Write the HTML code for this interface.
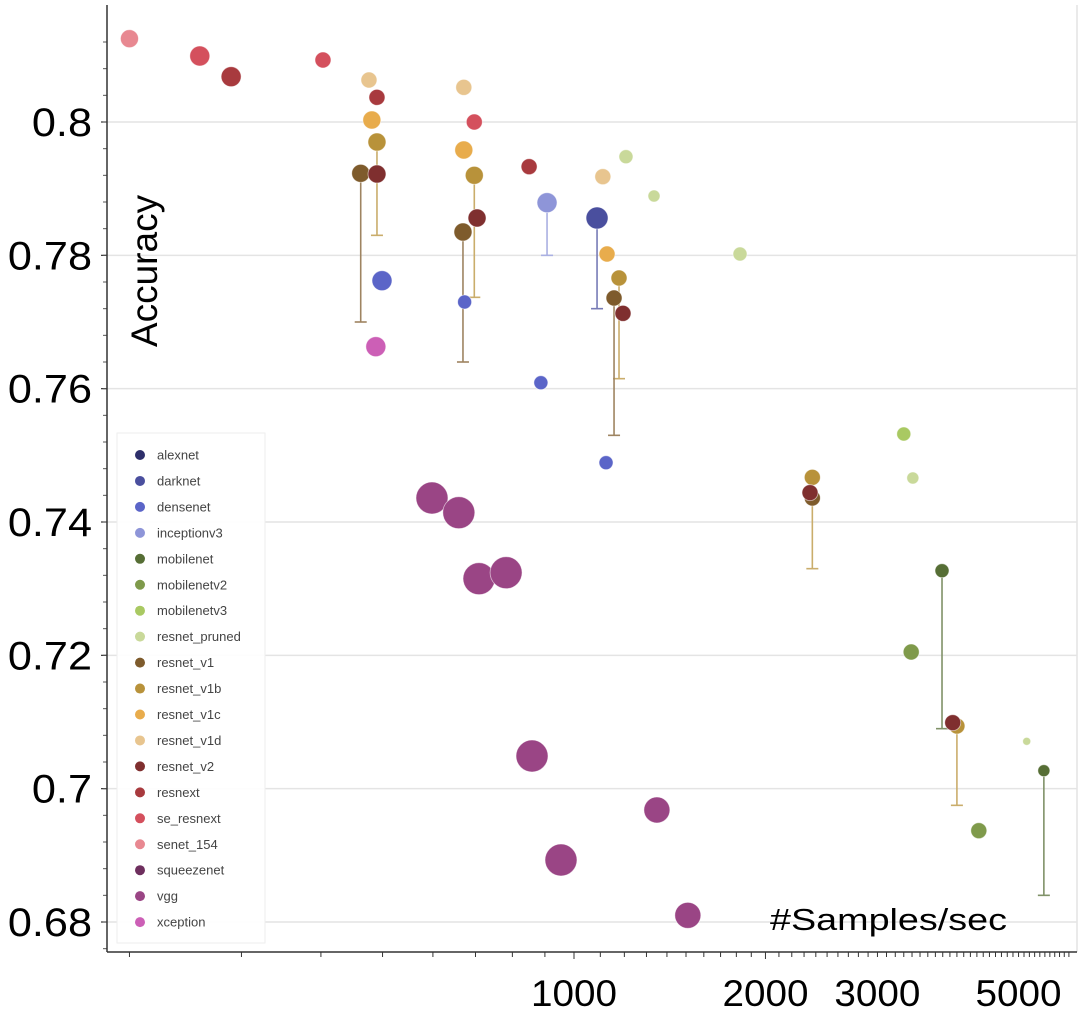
<!DOCTYPE html>
<html><head><meta charset="utf-8">
<style>
html,body{margin:0;padding:0;background:#fff;}
svg{display:block;font-family:"Liberation Sans",sans-serif;}
</style></head>
<body>
<svg id="chart" width="1083" height="1018" viewBox="0 0 1083 1018">
  <g id="grid"></g>
  <g id="axes"></g>
  <g id="marks"></g>
  <text x="0" y="0" transform="translate(157,271) rotate(-90)" text-anchor="middle" font-size="37" fill="#000">Accuracy</text>
  <text x="770" y="930" font-size="31" textLength="237" lengthAdjust="spacingAndGlyphs" fill="#000">#Samples/sec</text>
  <g id="legend"></g>
</svg>
<script>
const seriesNames = ["alexnet","darknet","densenet","inceptionv3","mobilenet","mobilenetv2","mobilenetv3","resnet_pruned","resnet_v1","resnet_v1b","resnet_v1c","resnet_v1d","resnet_v2","resnext","se_resnext","senet_154","squeezenet","vgg","xception"];
const seriesColors = ["#2e2f6b","#4a4f9e","#5b65c8","#8e95d8","#566e35","#7f9a4b","#a9c962","#c9d99a","#7e5b2c","#b8923a","#e8ac4c","#e8c58f","#7f2f2f","#a83a3e","#d4505d","#e88891","#6e2f5e","#9a4585","#cc5fb6"];
const pointSeries = ["senet_154","se_resnext","resnext","se_resnext","resnet_v1d","resnext","resnet_v1c","resnet_v1b","resnet_v1","resnet_v2","densenet","xception","resnet_v1d","se_resnext","resnet_v1c","resnet_v1b","resnet_v2","resnet_v1","densenet","resnext","inceptionv3","densenet","darknet","resnet_v1d","resnet_pruned","resnet_pruned","resnet_v1c","resnet_v1b","resnet_v1","resnet_v2","densenet","resnet_pruned","mobilenetv3","resnet_pruned","resnet_v1b","resnet_v1","resnet_v2","mobilenet","mobilenetv2","resnet_v1b","resnet_v2","resnet_pruned","mobilenetv2","mobilenet","vgg","vgg","vgg","vgg","vgg","vgg","vgg","vgg"];
const samplesPerSec = [200,258,289,403,476,490,481,490,462,490,499,488,671,697,671,697,704,669,673,850,907,887,1087,1110,1207,1336,1127,1177,1156,1194,1123,1824,3300,3410,2370,2370,2350,3790,3390,4000,3940,5150,4330,5480,598,659,709,782,859,954,1350,1510];
const accuracy = [0.8125,0.8099,0.8068,0.8093,0.8063,0.8037,0.8003,0.797,0.7923,0.7922,0.7762,0.7663,0.8052,0.800,0.7958,0.792,0.7856,0.7835,0.773,0.7933,0.7879,0.7609,0.7856,0.7918,0.7948,0.7889,0.7802,0.7766,0.7736,0.7713,0.7489,0.7802,0.7532,0.7466,0.7467,0.7436,0.7444,0.7327,0.7205,0.7094,0.7099,0.7071,0.6937,0.7027,0.7436,0.7414,0.7315,0.7324,0.7049,0.6893,0.6968,0.681];
const accuracyLow = [null,null,null,null,null,null,null,0.783,0.770,null,null,null,null,null,null,0.7737,null,0.764,null,null,0.780,null,0.772,null,null,null,null,0.7615,0.753,null,null,null,null,null,0.733,null,null,0.709,null,0.6975,null,null,null,0.684,null,null,null,null,null,null,null,null];
const markerSize = [9,10,10,8,8,8,9,9,9,9,10,10,8,8,9,9,9,9,7,8,10,7,11,8,7,6,8,8,8,8,7,7,7,6,8,8,8,7,8,8,8,4,8,6,16,16,16,16,16,16,13,13];
const yTicks = [0.68,0.70,0.72,0.74,0.76,0.78,0.80];
const yTickLabels = ["0.68","0.7","0.72","0.74","0.76","0.78","0.8"];
const xLabelTicks = [1000,2000,3000,5000];
const xLabelText = ["1000","2000","3000","5000"];

const NS="http://www.w3.org/2000/svg";
const L=107,R=1077,T=5,B=952;
function xs(v){return 574+636*Math.log10(v/1000);}
function ys(v){return 122+(0.8-v)*6666.7;}
function mk(tag,attrs,parent){const e=document.createElementNS(NS,tag);for(const k in attrs)e.setAttribute(k,attrs[k]);parent.appendChild(e);return e;}
function lighten(hex,f){const n=parseInt(hex.slice(1),16);let r=n>>16,g=(n>>8)&255,b=n&255;r=Math.round(r+(255-r)*f);g=Math.round(g+(255-g)*f);b=Math.round(b+(255-b)*f);return `rgb(${r},${g},${b})`;}
const grid=document.getElementById('grid'),axes=document.getElementById('axes'),marks=document.getElementById('marks'),legend=document.getElementById('legend');

yTicks.forEach((t,i)=>{
  const y=ys(t);
  const g=mk('line',{x1:L,x2:R,y1:y,y2:y,stroke:'#e4e4e4','stroke-width':1.5},grid);
  
  
  const tk=mk('line',{x1:L-6,x2:L,y1:y,y2:y,stroke:'#333','stroke-width':1.2},axes);
  
  
  const lb=mk('text',{x:92,y:y+14,'text-anchor':'end','font-size':40,fill:'#000'},axes);
  lb.textContent=yTickLabels[i];
  
  
  const w=lb.getComputedTextLength();
  lb.setAttribute('textLength',(w*1.08).toFixed(1));
  lb.setAttribute('lengthAdjust','spacingAndGlyphs');
});
for(let v=0.672;v<=0.815;v+=0.004){
  const y=ys(v); if(y<T||y>B) continue;
  const tk=mk('line',{x1:L-4,x2:L,y1:y,y2:y,stroke:'#555','stroke-width':1},axes);
  
  
}
const xt=[];
for(let v=200;v<1000;v+=100)xt.push(v);
for(let v=1000;v<=6000;v+=100)xt.push(v);
xt.forEach(v=>{
  const x=xs(v); if(x>R) return;
  const major=(v===1000||v===2000);
  const tk=mk('line',{x1:x,x2:x,y1:B,y2:B+(major?7:5),stroke:'#333','stroke-width':1},axes);
  
  
});
xLabelTicks.forEach((v,i)=>{
  const lb=mk('text',{x:xs(v),y:1006,'text-anchor':'middle','font-size':37,textLength:86,lengthAdjust:'spacingAndGlyphs',fill:'#000'},axes);
  lb.textContent=xLabelText[i];
  
  
});
const ya=mk('line',{x1:L,x2:L,y1:T,y2:B,stroke:'#333','stroke-width':1.5},axes);


const xa=mk('line',{x1:L,x2:R,y1:B,y2:B,stroke:'#333','stroke-width':1.5},axes);


const rb=mk('line',{x1:R,x2:R,y1:T,y2:B,stroke:'#e4e4e4','stroke-width':1.5},grid);



samplesPerSec.forEach((s,i)=>{
  if(accuracyLow[i]==null) return;
  const c=lighten(seriesColors[seriesNames.indexOf(pointSeries[i])],0.25);
  const x=xs(s),y0=ys(accuracy[i]),y1=ys(accuracyLow[i]);
  const g=mk('g',{},marks);
  
  
  mk('line',{x1:x,x2:x,y1:y0,y2:y1,stroke:c,'stroke-width':1.6},g);
  mk('line',{x1:x-6,x2:x+6,y1:y1,y2:y1,stroke:c,'stroke-width':1.6},g);
});
samplesPerSec.forEach((s,i)=>{
  const c=seriesColors[seriesNames.indexOf(pointSeries[i])];
  const p=mk('circle',{cx:xs(s),cy:ys(accuracy[i]),r:markerSize[i],fill:c,stroke:'#fff','stroke-width':0.8,'stroke-opacity':0.6},marks);
  
  
});
const box=mk('rect',{x:117,y:433,width:148,height:510,fill:'#fff','fill-opacity':0.9,stroke:'#eee','stroke-width':1},legend);


seriesNames.forEach((n,i)=>{
  const y=455+i*25.95;
  const g=mk('g',{},legend);
  
  
  mk('circle',{cx:140,cy:y,r:5,fill:seriesColors[i]},g);
  const t=mk('text',{x:157,y:y+4.5,'font-size':13,fill:'#444'},g);
  t.textContent=n;
});
</script>
</body></html>
